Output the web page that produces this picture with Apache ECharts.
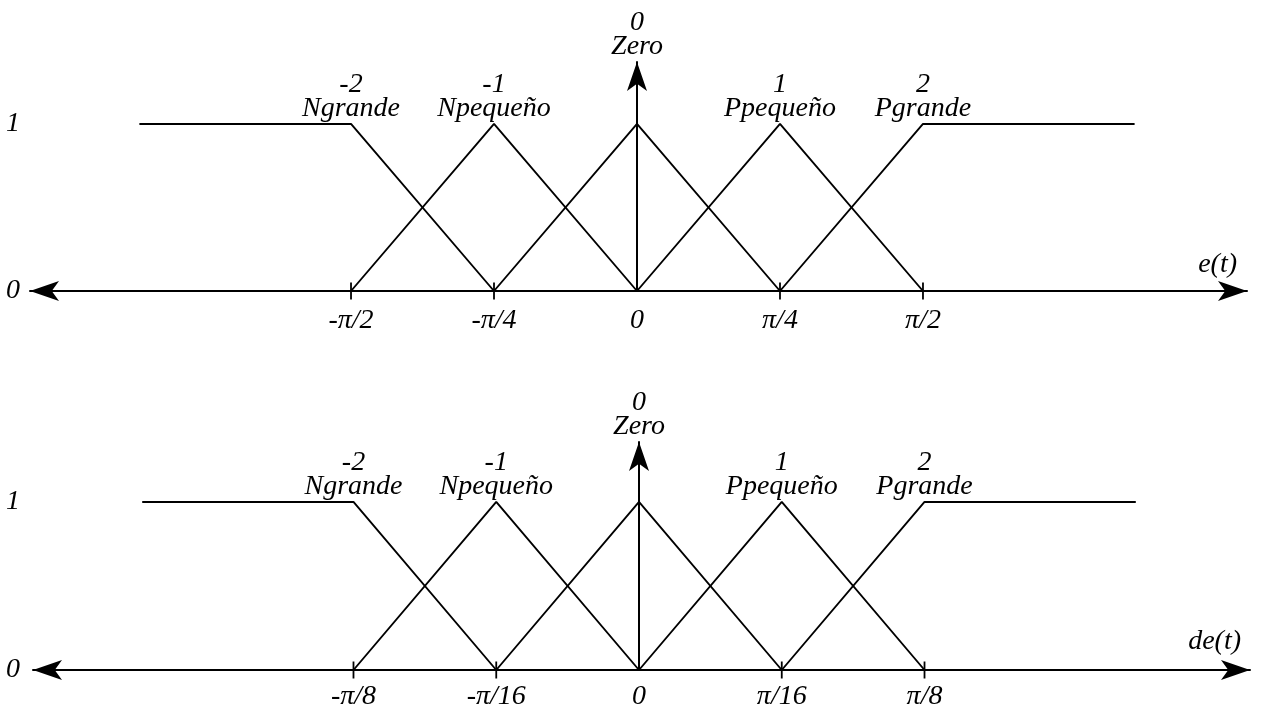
<!DOCTYPE html>
<html>
<head>
<meta charset="utf-8">
<script src="https://cdn.jsdelivr.net/npm/echarts@6/dist/echarts.min.js"></script>
<style>
  html, body { margin: 0; padding: 0; background: #fff; }
  #chart { width: 1262px; height: 706px; }
</style>
</head>
<body>
<div id="chart"></div>
<script>
// Linguistic terms of the fuzzy partition
const termCodes = [-2, -1, 0, 1, 2];
const termNames = ['Ngrande', 'Npequeño', 'Zero', 'Ppequeño', 'Pgrande'];

// Breakpoints of each membership function: [x in tick steps, membership degree]
const ngrande  = [[-3.48, 1], [-2, 1], [-1, 0]];
const npequeno = [[-2, 0], [-1, 1], [0, 0]];
const zero     = [[-1, 0], [0, 1], [1, 0]];
const ppequeno = [[0, 0], [1, 1], [2, 0]];
const pgrande  = [[1, 0], [2, 1], [3.48, 1]];
const membershipShapes = [ngrande, npequeno, zero, ppequeno, pgrande];

// Ticks of the universes of discourse
const tickSteps = [-2, -1, 0, 1, 2];
const errorTickLabels = ['-π/2', '-π/4', '0', 'π/4', 'π/2'];
const deltaTickLabels = ['-π/8', '-π/16', '0', 'π/16', 'π/8'];
const membershipTicks = [0, 1];

const FONT = '"Liberation Serif", "DejaVu Serif", serif';
const INK = '#000';
const textBase = { fontFamily: FONT, fontStyle: 'italic', color: INK, fontSize: 28 };

// Panel frames (e(t) on top, de(t) below); axis lines run out to the arrow tips
const panels = [
  { name: 'e(t)', ticks: errorTickLabels,
    grid: { left: 30, width: 1217, top: 62, height: 229 },
    xMin: -4.245, xMax: 4.266, yMax: 1.371, namePad: 12, nameGap: -10, tickMargin: 16 },
  { name: 'de(t)', ticks: deltaTickLabels,
    grid: { left: 33, width: 1217, top: 442, height: 228 },
    xMin: -4.245, xMax: 4.280, yMax: 1.357, namePad: 14, nameGap: -9, tickMargin: 13 }
];

const grids = [], xAxes = [], yAxes = [], series = [];
const arrowSize = [15, 29];

panels.forEach(function (p, i) {
  grids.push(Object.assign({ outerBoundsMode: 'none', containLabel: false }, p.grid));
  xAxes.push({
    type: 'value', gridIndex: i, min: p.xMin, max: p.xMax,
    name: p.name, nameLocation: 'end', nameGap: p.nameGap,
    nameTextStyle: Object.assign({}, textBase, {
      align: 'right', verticalAlign: 'bottom', lineHeight: 28, padding: [0, 0, p.namePad, 0]
    }),
    axisLine: { show: true, onZero: true, symbol: ['arrow', 'arrow'], symbolSize: arrowSize,
      lineStyle: { color: INK, width: 2 } },
    axisTick: { show: false },
    splitLine: { show: false },
    axisLabel: Object.assign({}, textBase, {
      customValues: tickSteps, margin: p.tickMargin, lineHeight: 28,
      formatter: function (v) { return p.ticks[tickSteps.indexOf(v)]; }
    })
  });
  // central membership axis with arrow at the top
  yAxes.push({
    type: 'value', gridIndex: i, min: 0, max: p.yMax,
    axisLine: { show: true, onZero: true, symbol: ['none', 'arrow'], symbolSize: arrowSize,
      lineStyle: { color: INK, width: 2 } },
    axisTick: { show: false }, axisLabel: { show: false }, splitLine: { show: false }
  });
  // membership degree labels at the left edge
  yAxes.push({
    type: 'value', gridIndex: i, min: 0, max: p.yMax, position: 'left',
    axisLine: { show: false }, axisTick: { show: false }, splitLine: { show: false },
    axisLabel: Object.assign({}, textBase, {
      customValues: membershipTicks, align: 'center', margin: p.grid.left - 13
    })
  });

  const yIdx = i * 2;
  membershipShapes.forEach(function (shape, k) {
    series.push({
      type: 'line', name: termNames[k], xAxisIndex: i, yAxisIndex: yIdx,
      data: shape, symbol: 'none', silent: true,
      lineStyle: { color: INK, width: 1.9 }
    });
  });

  // tick marks crossing the horizontal axis
  series.push({
    type: 'scatter', xAxisIndex: i, yAxisIndex: yIdx, silent: true, clip: false,
    symbol: 'rect', symbolSize: [1.8, 17],
    itemStyle: { color: INK, opacity: 1 },
    data: tickSteps.filter(function (v) { return v !== 0; }).map(function (v) { return [v, 0]; })
  });

  // term labels above each peak / shoulder and above the Zero arrow
  series.push({
    type: 'scatter', xAxisIndex: i, yAxisIndex: yIdx, silent: true, clip: false,
    symbolSize: 0,
    itemStyle: { opacity: 1 },
    data: termCodes.map(function (c) { return [c, c === 0 ? p.yMax : 1]; }),
    label: Object.assign({}, textBase, {
      show: true, position: 'top', distance: 3, lineHeight: 24, align: 'center',
      formatter: function (d) {
        const k = d.dataIndex;
        return termCodes[k] + '\n' + termNames[k];
      }
    })
  });
});

const chart = echarts.init(document.getElementById('chart'), null, { renderer: 'canvas' });
chart.setOption({
  animation: false,
  backgroundColor: '#fff',
  grid: grids,
  xAxis: xAxes,
  yAxis: yAxes,
  series: series
});
</script>
</body>
</html>
